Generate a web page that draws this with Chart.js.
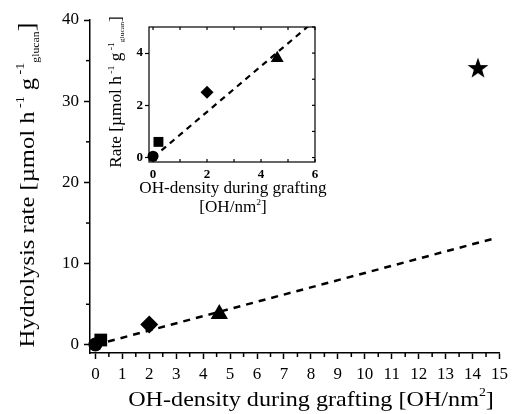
<!DOCTYPE html>
<html>
<head>
<meta charset="utf-8">
<script src="https://cdn.jsdelivr.net/npm/chart.js@4.4.1/dist/chart.umd.min.js"></script>
<style>
  html, body { margin: 0; padding: 0; background: #fff; }
  #wrap { position: relative; width: 513px; height: 414px; }
  #wrap canvas { position: absolute; left: 0; top: 0; }
</style>
</head>
<body>
<div id="wrap">
  <canvas id="main-chart" width="513" height="414"></canvas>
  <canvas id="inset-chart" width="513" height="414"></canvas>
</div>
<script>
// measured points: OH density during grafting vs hydrolysis rate
var ohDensity = [0, 0.2, 2, 4.6, 14.2];
var hydrolysisRate = [0.05, 0.6, 2.5, 3.8, 34.2];
var markerStyles = ['circle', 'rect', 'rectRot', 'triangle', 'star'];

// dashed linear fit
var fitX = [0, 14.8];
var fitY = [0, 13.1];
var insetFitX = [0, 6];
var insetFitY = [0, 5.25];

// axis ticks
var xTicks = [0, 1, 2, 3, 4, 5, 6, 7, 8, 9, 10, 11, 12, 13, 14, 15];
var xMinorTicks = [0.5, 1.5, 2.5, 3.5, 4.5, 5.5, 6.5, 7.5, 8.5, 9.5, 10.5, 11.5, 12.5, 13.5, 14.5];
var yTicks = [0, 10, 20, 30, 40];
var yMinorTicks = [5, 15, 25, 35];
var insetXTicks = [0, 2, 4, 6];
var insetXMinor = [0, 1, 2, 3, 4, 5, 6];
var insetYTicks = [0, 2, 4];
var insetYMinor = [0, 1, 2, 3, 4, 5];

var SERIF = '"Liberation Serif", "Times New Roman", serif';

function makeStar(size) {
    var c = document.createElement('canvas');
    c.width = size; c.height = size;
    var g = c.getContext('2d');
    g.fillStyle = '#000';
    g.beginPath();
    for (var i = 0; i < 10; i++) {
        var r = i % 2 ? size * 0.2 : size / 2;
        var a = -Math.PI / 2 + i * Math.PI / 5;
        g.lineTo(size / 2 + r * Math.cos(a), size / 2 + 1.5 + r * Math.sin(a));
    }
    g.closePath();
    g.fill();
    return c;
}

// draws text made of pieces with their own size and vertical shift,
// sx stretches it a bit sideways like the scanned original
function richText(ctx, parts, cx, cy, rot, sx) {
    var total = 0;
    parts.forEach(function (p) {
        ctx.font = p[1] + 'px ' + SERIF;
        p.w = ctx.measureText(p[0]).width;
        total += p.w;
    });
    ctx.save();
    ctx.translate(cx, cy);
    ctx.rotate(rot);
    ctx.scale(sx || 1, 1);
    ctx.fillStyle = '#000';
    ctx.textBaseline = 'alphabetic';
    ctx.textAlign = 'left';
    var x = -total / 2;
    parts.forEach(function (p) {
        ctx.font = p[1] + 'px ' + SERIF;
        ctx.fillText(p[0], x, p[2]);
        x += p.w;
    });
    ctx.restore();
}

function line(ctx, x1, y1, x2, y2) {
    ctx.beginPath();
    ctx.moveTo(x1, y1);
    ctx.lineTo(x2, y2);
    ctx.stroke();
}

function tickList(arr) {
    return function (scale) {
        scale.ticks = arr.map(function (v) { return { value: v }; });
    };
}

var star = makeStar(22);

var points = ohDensity.map(function (x, i) { return { x: x, y: hydrolysisRate[i] }; });
var fitPoints = fitX.map(function (x, i) { return { x: x, y: fitY[i] }; });

var mainDecor = {
    id: 'mainDecor',
    afterDraw: function (chart) {
        var ctx = chart.ctx, area = chart.chartArea;
        var xs = chart.scales.x, ys = chart.scales.y;
        ctx.save();
        ctx.strokeStyle = '#000';
        ctx.lineWidth = 1.5;
        xMinorTicks.forEach(function (v) {
            var px = xs.getPixelForValue(v);
            line(ctx, px, area.bottom, px, area.bottom + 4);
        });
        yMinorTicks.forEach(function (v) {
            var py = ys.getPixelForValue(v);
            line(ctx, area.left - 4, py, area.left, py);
        });
        ctx.restore();

        richText(ctx, [
            ['Hydrolysis rate [\u00b5mol h', 21, 0],
            [' -1', 12, -10],
            [' g', 21, 0],
            [' -1', 12, -10],
            ['glucan', 10, 5],
            [']', 23, 0]
        ], 34, 185, -Math.PI / 2, 1.17);

        richText(ctx, [
            ['OH-density during grafting [OH/nm', 21, 0],
            ['2', 12, -10],
            [']', 21, 0]
        ], 311, 406, 0, 1.15);
    }
};

new Chart(document.getElementById('main-chart'), {
    type: 'scatter',
    data: {
        datasets: [{
            data: points,
            pointStyle: markerStyles.map(function (s) { return s === 'star' ? star : s; }),
            pointRadius: [7, 9, 9, 10, 10],
            backgroundColor: '#000',
            borderColor: '#000',
            borderWidth: 0,
            clip: false
        }, {
            data: fitPoints,
            showLine: true,
            pointRadius: 0,
            borderColor: '#000',
            borderWidth: 2.5,
            borderDash: [7, 6]
        }]
    },
    options: {
        responsive: false,
        animation: false,
        layout: { padding: { left: 0, top: 20, right: 10, bottom: 0 } },
        plugins: { legend: { display: false }, tooltip: { enabled: false } },
        scales: {
            x: {
                type: 'linear',
                min: -0.2,
                max: 15,
                afterBuildTicks: tickList(xTicks),
                afterFit: function (s) { s.height = 61; },
                border: { color: '#000', width: 1.5 },
                grid: { drawOnChartArea: false, tickLength: 6, tickWidth: 1.5, tickColor: '#000' },
                ticks: { color: '#000', padding: 5, maxRotation: 0, autoSkip: false, font: { family: SERIF, size: 17 } }
            },
            y: {
                type: 'linear',
                min: -1,
                max: 40,
                afterBuildTicks: tickList(yTicks),
                afterFit: function (s) { s.width = 90; },
                border: { color: '#000', width: 1.5 },
                grid: { drawOnChartArea: false, tickLength: 6, tickWidth: 1.5, tickColor: '#000' },
                ticks: { color: '#000', padding: 5, font: { family: SERIF, size: 17 } }
            }
        }
    },
    plugins: [mainDecor]
});

var insetDecor = {
    id: 'insetDecor',
    beforeDraw: function (chart) {
        var ctx = chart.ctx, a = chart.chartArea;
        ctx.save();
        ctx.fillStyle = '#fff';
        ctx.fillRect(a.left, a.top, a.right - a.left, a.bottom - a.top);
        ctx.restore();
    },
    afterDraw: function (chart) {
        var ctx = chart.ctx, a = chart.chartArea;
        var xs = chart.scales.x, ys = chart.scales.y;
        ctx.save();
        ctx.strokeStyle = '#000';
        ctx.lineWidth = 1.2;
        ctx.strokeRect(a.left, a.top, a.right - a.left, a.bottom - a.top);
        insetXMinor.forEach(function (v) {
            var px = xs.getPixelForValue(v);
            line(ctx, px, a.top, px, a.top + 3);
            line(ctx, px, a.bottom, px, a.bottom - 3);
        });
        insetYMinor.forEach(function (v) {
            var py = ys.getPixelForValue(v);
            line(ctx, a.right, py, a.right - 3, py);
        });
        ctx.restore();

        richText(ctx, [
            ['Rate [\u00b5mol h', 16, 0],
            [' -1', 9, -7],
            [' g', 16, 0],
            [' -1', 9, -7],
            ['glucan', 7, 3],
            [']', 16, 0]
        ], 121, 92, -Math.PI / 2, 1.08);

        richText(ctx, [['OH-density during grafting', 16, 0]], 233, 193, 0, 1.07);
        richText(ctx, [
            ['[OH/nm', 16, 0],
            ['2', 9, -7],
            [']', 16, 0]
        ], 233, 212, 0, 1.07);
    }
};

new Chart(document.getElementById('inset-chart'), {
    type: 'scatter',
    data: {
        datasets: [{
            data: points.slice(0, 4),
            pointStyle: markerStyles.slice(0, 4),
            pointRadius: [5.5, 7, 6.5, 7.5],
            backgroundColor: '#000',
            borderColor: '#000',
            borderWidth: 0,
            clip: false
        }, {
            data: insetFitX.map(function (x, i) { return { x: x, y: insetFitY[i] }; }),
            showLine: true,
            pointRadius: 0,
            borderColor: '#000',
            borderWidth: 2.2,
            borderDash: [6, 5]
        }]
    },
    options: {
        responsive: false,
        animation: false,
        layout: { padding: { left: 119, top: 27, right: 198, bottom: 232 } },
        plugins: { legend: { display: false }, tooltip: { enabled: false } },
        scales: {
            x: {
                type: 'linear',
                min: -0.15,
                max: 6,
                afterBuildTicks: tickList(insetXTicks),
                afterFit: function (s) { s.height = 20; },
                border: { display: false },
                grid: { drawOnChartArea: false, drawTicks: false },
                ticks: { color: '#000', padding: 5, maxRotation: 0, autoSkip: false, font: { family: SERIF, size: 13, weight: 'bold' } }
            },
            y: {
                type: 'linear',
                min: -0.17,
                max: 5,
                afterBuildTicks: tickList(insetYTicks),
                afterFit: function (s) { s.width = 30; },
                border: { display: false },
                grid: { drawOnChartArea: false, tickLength: 4, tickWidth: 1.2, tickColor: '#000' },
                ticks: { color: '#000', padding: 2, font: { family: SERIF, size: 13, weight: 'bold' } }
            }
        }
    },
    plugins: [insetDecor]
});
</script>
</body>
</html>
